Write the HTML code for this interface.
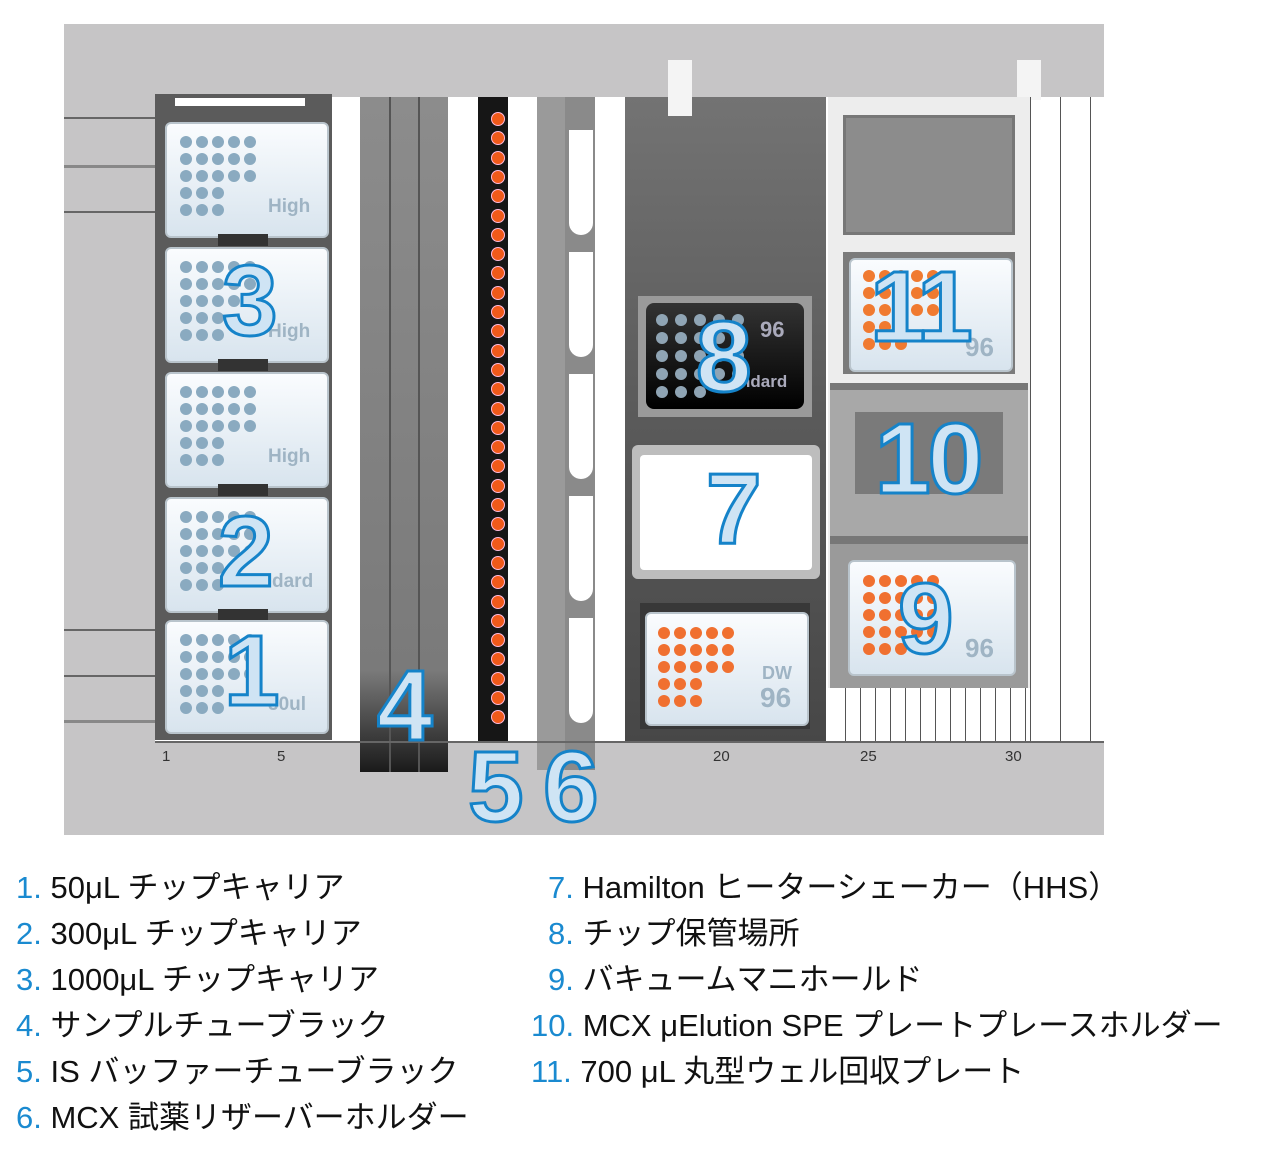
<!DOCTYPE html>
<html><head><meta charset="utf-8">
<style>
body{margin:0;width:1280px;height:1166px;background:#fff;position:relative;overflow:hidden;font-family:"Liberation Sans","Noto Sans CJK JP",sans-serif}
.a{position:absolute;box-sizing:border-box}
.card{position:absolute;border-radius:6px;background:linear-gradient(180deg,#fafcfe,#d8e4ee);border:2px solid #b9c4cc}
.dot{position:absolute;width:12px;height:12px;border-radius:50%}
.big{position:absolute;font-family:"Liberation Sans",sans-serif;font-weight:bold;color:#cfe4f4;-webkit-text-stroke:3px #1583c9;line-height:1;letter-spacing:-3px}
.lbl{position:absolute;color:#9fb4c4;font-weight:bold;font-size:19px}
.tick{position:absolute;font-size:15px;color:#333;top:748px}
.leg{position:absolute;font-size:31px;color:#111;line-height:1;white-space:nowrap}
.leg b{font-weight:normal;color:#1a8ad0}
</style></head><body>
<div class="a" style="left:64px;top:24px;width:1040px;height:811px;background:#c6c5c6"></div>
<div class="a" style="left:155px;top:97px;width:949px;height:645px;background:#fff"></div>
<div class="a" style="left:64px;top:117px;width:91px;height:2px;background:#666"></div>
<div class="a" style="left:64px;top:165px;width:91px;height:3px;background:#888"></div>
<div class="a" style="left:64px;top:211px;width:91px;height:2px;background:#666"></div>
<div class="a" style="left:64px;top:629px;width:91px;height:2px;background:#666"></div>
<div class="a" style="left:64px;top:675px;width:91px;height:2px;background:#666"></div>
<div class="a" style="left:64px;top:720px;width:91px;height:3px;background:#888"></div>
<div class="a" style="left:155px;top:94px;width:177px;height:646px;background:#5b5b5b"></div>
<div class="a" style="left:175px;top:98px;width:130px;height:8px;background:#fff"></div>
<div id="tips"></div>
<div class="a" style="left:360px;top:97px;width:88px;height:675px;background:linear-gradient(180deg,#8c8c8c 0,#7a7a7a 85%,#1a1a1a 100%)"></div>
<div class="a" style="left:389px;top:97px;width:2px;height:675px;background:#555"></div>
<div class="a" style="left:418px;top:97px;width:2px;height:675px;background:#555"></div>
<div class="a" style="left:478px;top:97px;width:30px;height:645px;background:#161616"></div>
<div id="c5"></div>
<div class="a" style="left:537px;top:97px;width:28px;height:673px;background:#9a9a9a"></div>
<div class="a" style="left:565px;top:97px;width:30px;height:673px;background:#8a8a8a"></div>
<div id="c6"></div>
<div class="a" style="left:625px;top:97px;width:201px;height:645px;background:linear-gradient(180deg,#737373,#5a5a5a 50%,#474747)"></div>
<div class="a" style="left:668px;top:60px;width:24px;height:56px;background:#f4f4f4"></div>
<div class="a" style="left:1017px;top:60px;width:24px;height:40px;background:#f4f4f4"></div>
<div class="a" style="left:638px;top:296px;width:174px;height:121px;background:#9a9a9a"></div>
<div class="a" style="left:646px;top:303px;width:158px;height:106px;background:linear-gradient(180deg,#333,#000);border-radius:8px"></div>
<div class="lbl" style="left:760px;top:317px;font-size:22px;color:#aab">96</div>
<div class="lbl" style="left:740px;top:372px;color:#aab;font-size:17px">ndard</div>
<div class="a" style="left:632px;top:445px;width:188px;height:134px;background:#bdbdbd;border-radius:6px"></div>
<div class="a" style="left:640px;top:455px;width:172px;height:115px;background:#fff;border-radius:4px"></div>
<div class="a" style="left:640px;top:603px;width:170px;height:126px;background:#383838"></div>
<div class="card" style="left:645px;top:612px;width:160px;height:110px"></div>
<div class="lbl" style="left:762px;top:663px;font-size:18px">DW</div>
<div class="lbl" style="left:760px;top:682px;font-size:28px">96</div>
<div class="a" style="left:828px;top:97px;width:202px;height:591px;background:#ededed"></div>
<div class="a" style="left:843px;top:115px;width:172px;height:120px;background:#8c8c8c;border:3px solid #777"></div>
<div class="a" style="left:843px;top:252px;width:172px;height:122px;background:#7b7b7b"></div>
<div class="card" style="left:849px;top:258px;width:160px;height:110px"></div>
<div class="lbl" style="left:965px;top:332px;font-size:26px">96</div>
<div class="a" style="left:830px;top:383px;width:198px;height:7px;background:#777"></div>
<div class="a" style="left:830px;top:390px;width:198px;height:146px;background:#a8a8a8"></div>
<div class="a" style="left:855px;top:412px;width:148px;height:82px;background:#7a7a7a"></div>
<div class="a" style="left:830px;top:536px;width:198px;height:8px;background:#777"></div>
<div class="a" style="left:830px;top:544px;width:198px;height:144px;background:#9a9a9a"></div>
<div class="card" style="left:848px;top:560px;width:164px;height:112px"></div>
<div class="lbl" style="left:965px;top:633px;font-size:26px">96</div>
<div id="c8"></div>
<div id="vl"></div>
<div class="tick" style="left:162px">1</div>
<div class="tick" style="left:277px">5</div>
<div class="tick" style="left:713px">20</div>
<div class="tick" style="left:860px">25</div>
<div class="tick" style="left:1005px">30</div>
<div class="big" style="left:222px;top:251px;font-size:100px">3</div>
<div class="big" style="left:218px;top:502px;font-size:100px">2</div>
<div class="big" style="left:224px;top:621px;font-size:100px">1</div>
<div class="big" style="left:377px;top:656px;font-size:100px">4</div>
<div class="big" style="left:468px;top:737px;font-size:100px">5</div>
<div class="big" style="left:543px;top:737px;font-size:100px">6</div>
<div class="big" style="left:696px;top:307px;font-size:100px">8</div>
<div class="big" style="left:706px;top:459px;font-size:100px">7</div>
<div class="big" style="left:870px;top:257px;font-size:100px">11</div>
<div class="big" style="left:875px;top:409px;font-size:100px">10</div>
<div class="big" style="left:898px;top:569px;font-size:100px">9</div>
<div class="leg" style="left:16px;top:872px"><b>1.</b> 50μL チップキャリア</div>
<div class="leg" style="left:16px;top:918px"><b>2.</b> 300μL チップキャリア</div>
<div class="leg" style="left:16px;top:964px"><b>3.</b> 1000μL チップキャリア</div>
<div class="leg" style="left:16px;top:1010px"><b>4.</b> サンプルチューブラック</div>
<div class="leg" style="left:16px;top:1056px"><b>5.</b> IS バッファーチューブラック</div>
<div class="leg" style="left:16px;top:1102px"><b>6.</b> MCX 試薬リザーバーホルダー</div>
<div class="leg" style="left:548px;top:872px"><b>7.</b> Hamilton ヒーターシェーカー（HHS）</div>
<div class="leg" style="left:548px;top:918px"><b>8.</b> チップ保管場所</div>
<div class="leg" style="left:548px;top:964px"><b>9.</b> バキュームマニホールド</div>
<div class="leg" style="left:531px;top:1010px"><b>10.</b> MCX μElution SPE プレートプレースホルダー</div>
<div class="leg" style="left:531px;top:1056px"><b>11.</b> 700 μL 丸型ウェル回収プレート</div>
<script>
function add(p,h){document.getElementById(p).insertAdjacentHTML('beforeend',h)}
function grid(p,x,y,col,rows,dx,dy){for(let r=0;r<rows.length;r++)for(let c=0;c<rows[r];c++)add(p,`<div class="dot" style="left:${x+c*dx}px;top:${y+r*dy}px;background:${col}"></div>`)}
var tops=[122,247,372,497,620],labs=['High','High','High','dard','50ul'];
tops.forEach((t,i)=>{add('tips',`<div class="card" style="left:165px;top:${t}px;width:160px;height:${i==4?110:112}px"></div>`);
grid('tips',180,t+14,'#8aaac0',[5,5,5,3,3],16,17);
add('tips',`<div class="lbl" style="left:${i==3?272:268}px;top:${t+74}px">${labs[i]}</div>`);
if(i<4)add('tips',`<div class="a" style="left:218px;top:${t+112}px;width:50px;height:12px;background:#333"></div>`)});
for(let y=112;y<715;y+=19.3)add('c5',`<div class="dot" style="left:491px;top:${y}px;background:#f05a1a;border:1px solid #fbd"></div>`);
for(let y=130;y<740;y+=122)add('c6',`<div class="a" style="left:569px;top:${y}px;width:24px;height:105px;background:#fff;border-radius:0 0 12px 12px"></div>`);
grid('c8',656,314,'#8fa4b4',[5,5,5,5,3],19,18);
grid('c8',658,627,'#f07030',[5,5,5,3,3],16,17);
grid('c8',863,270,'#f07a30',[5,5,5,3,3],16,17);
grid('c8',863,575,'#f07030',[5,5,5,5,3],16,17);
for(let x=1030;x<1104;x+=30)add('vl',`<div class="a" style="left:${x}px;top:97px;width:1px;height:645px;background:#555"></div>`);
for(let x=845;x<1030;x+=15)add('vl',`<div class="a" style="left:${x}px;top:688px;width:1px;height:54px;background:#555"></div>`);
add('vl',`<div class="a" style="left:155px;top:741px;width:949px;height:2px;background:#666"></div>`);
</script>
</body></html>
